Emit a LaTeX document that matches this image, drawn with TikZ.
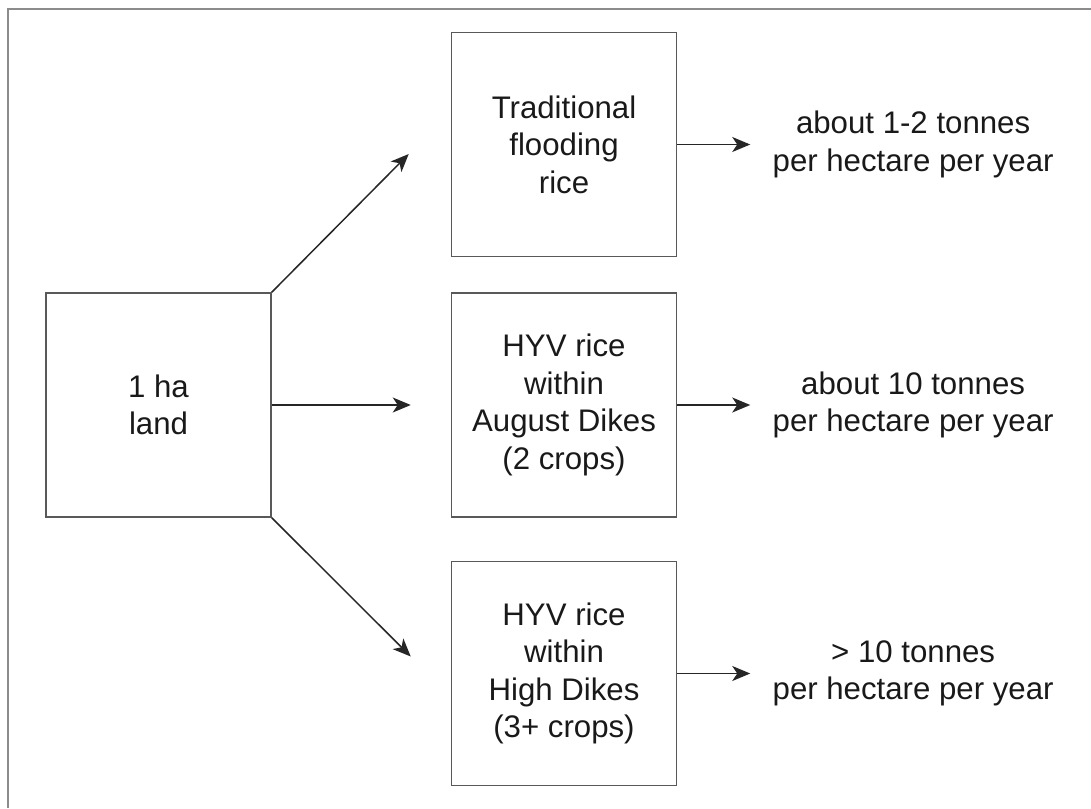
\documentclass[tikz,border=0pt]{standalone}
\usepackage{fontspec}
\setmainfont{Liberation Sans}
\usetikzlibrary{arrows.meta,positioning,calc}

\begin{document}
\begin{tikzpicture}[
        x=0.5pt,y=-0.5pt,
        node distance=17.5pt and 89.5pt,
        font=\fontsize{15.6pt}{18.75pt}\selectfont,
        box/.style={draw=black!65,line width=0.75pt,minimum width=112.5pt,minimum height=112pt,align=center,text=black!90},
        yield/.style={align=center,inner sep=11pt,text=black!90},
        arr/.style={-{Stealth[length=9pt,width=7.5pt,inset=2.5pt]},line width=0.75pt,draw=black!85}
      ]
      \useasboundingbox (0,0) rectangle (1091,808);
      \draw[black!45,line width=1pt] (8,808) -- (8,9) -- (1091,9);

      \node[box] (land) at (158.5,405) {1 ha\\land};
      \node[box,right=of land] (aug) {HYV rice\\within\\August Dikes\\(2 crops)};
      \node[box,above=of aug] (trad) {Traditional\\flooding\\rice};
      \node[box,below=21.5pt of aug] (high) {HYV rice\\within\\High Dikes\\(3+ crops)};

      \node[yield,right=36.5pt of trad] (ytrad) {about 1-2 tonnes\\per hectare per year};
      \node[yield,right=36.5pt of aug] (yaug) {about 10 tonnes\\per hectare per year};
      \node[yield,right=36.5pt of high] (yhigh) {> 10 tonnes\\per hectare per year};

      \coordinate (tradin) at ($(trad.west)+(-21pt,-4.75pt)$);
      \coordinate (highin) at ($(high.west)+(-20pt,8.5pt)$);

      \draw[arr] (land.north east) -- (tradin);
      \draw[arr,shorten >=20pt] (land) -- (aug);
      \draw[arr] (land.south east) -- (highin);

      \draw[arr] (trad) -- (ytrad);
      \draw[arr] (aug) -- (yaug);
      \draw[arr] (high) -- (yhigh);
    \end{tikzpicture}
\end{document}
